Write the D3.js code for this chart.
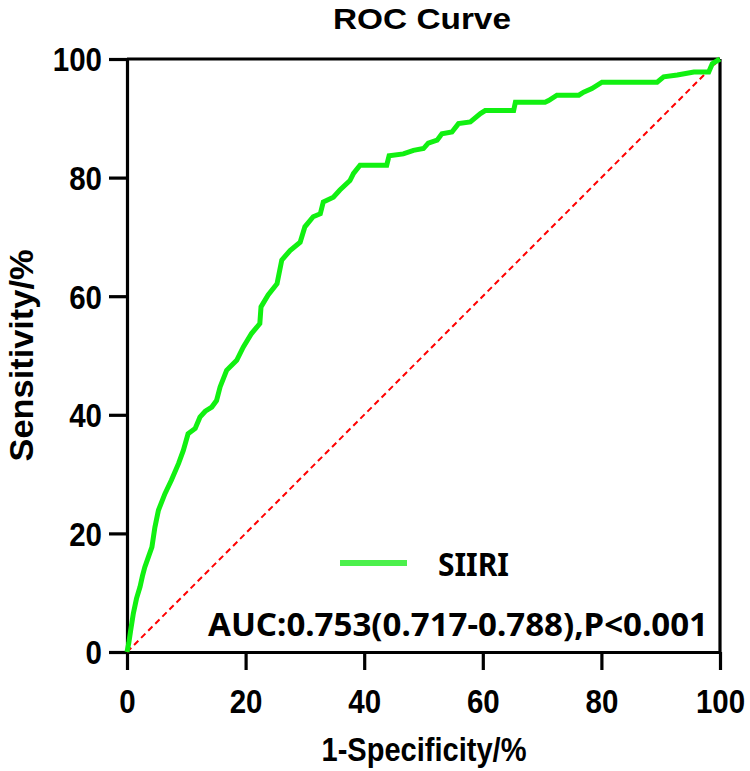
<!DOCTYPE html>
<html>
<head>
<meta charset="utf-8">
<script src="https://cdn.jsdelivr.net/npm/d3@7"></script>
<style>
  html, body { margin: 0; padding: 0; background: #fff; }
  svg { display: block; }
</style>
</head>
<body>
<svg id="chart" width="750" height="771"></svg>
<script>
// ---- Data ----
const fpr = [0, 0.3, 0.6, 1.07, 1.6, 2.2, 2.6, 3.0, 3.6, 4.2, 4.7, 5.3, 6.4, 7.5, 8.7, 9.5, 10.3, 11.5, 12.3, 13.2, 14.3, 15.1, 15.7, 16.8, 18.5, 19.6, 21.0, 22.4, 22.6, 23.8, 25.3, 26.1, 27.5, 29.2, 30.0, 31.4, 32.6, 33.1, 34.8, 35.9, 37.6, 38.2, 39.3, 43.8, 44.2, 46.6, 48.3, 50.0, 50.8, 52.3, 53.1, 54.8, 55.9, 57.9, 59.6, 60.4, 65.2, 65.5, 70.5, 71.1, 72.5, 76.2, 77.0, 78.4, 80.1, 89.4, 90.5, 92.8, 95.6, 98.1, 98.7, 100];
const tpr = [0, 1.5, 3.5, 6.5, 9.0, 11.0, 12.8, 14.3, 16.0, 17.7, 21.0, 23.9, 26.7, 29.0, 31.8, 34.0, 36.8, 37.7, 39.6, 40.6, 41.3, 42.4, 44.7, 47.5, 49.2, 51.4, 53.7, 55.4, 58.2, 60.2, 62.1, 66.1, 67.7, 69.1, 71.7, 73.4, 73.9, 75.9, 76.7, 77.9, 79.5, 80.7, 82.1, 82.1, 83.7, 84.0, 84.6, 84.9, 85.8, 86.3, 87.4, 87.7, 89.1, 89.4, 90.8, 91.3, 91.3, 92.7, 92.7, 93.0, 93.9, 93.9, 94.4, 95.0, 96.1, 96.1, 97.0, 97.3, 97.8, 97.8, 99.2, 100];
const refX = [0, 100];
const refY = [0, 100];
const xTicks = [0, 20, 40, 60, 80, 100];
const yTicks = [0, 20, 40, 60, 80, 100];
const seriesName = "SIIRI";
const aucLabel = "AUC:0.753(0.717-0.788),P<0.001";
const titleText = "ROC Curve";
const xTitle = "1-Specificity/%";
const yTitle = "Sensitivity/%";

// ---- Layout ----
const svg = d3.select("#chart");
const L = 127, R = 720, T = 59, B = 652;
const x = d3.scaleLinear().domain([0, 100]).range([L, R]);
const y = d3.scaleLinear().domain([0, 100]).range([B, T]);
const numFont = "'Liberation Sans', Arial, sans-serif";
const legFont = "'Noto Sans', 'Open Sans', sans-serif";

// Title
svg.append("text")
  .attr("x", 422).attr("y", 29)
  .attr("text-anchor", "middle")
  .attr("font-family", numFont).attr("font-weight", "bold")
  .attr("font-size", 30)
  .attr("textLength", 178).attr("lengthAdjust", "spacingAndGlyphs")
  .text(titleText);

// Frame (top & right)
svg.append("line").attr("x1", L).attr("x2", R).attr("y1", T).attr("y2", T)
  .attr("stroke", "#000").attr("stroke-width", 3.2);
svg.append("line").attr("x1", R).attr("x2", R).attr("y1", T).attr("y2", B)
  .attr("stroke", "#000").attr("stroke-width", 3.2);

// Axes
const xAxis = svg.append("g").attr("transform", `translate(0,${B})`)
  .call(d3.axisBottom(x).tickValues(xTicks).tickSize(18).tickPadding(20).tickSizeOuter(0));
const yAxis = svg.append("g").attr("transform", `translate(${L},0)`)
  .call(d3.axisLeft(y).tickValues(yTicks).tickSize(18).tickPadding(7).tickSizeOuter(0));
[xAxis, yAxis].forEach(g => {
  g.select(".domain").attr("stroke", "#000").attr("stroke-width", 3.2);
  g.selectAll(".tick line").attr("stroke", "#000").attr("stroke-width", 3.2);
  g.selectAll(".tick text")
    .attr("font-family", numFont).attr("font-weight", "bold")
    .attr("font-size", 33).attr("fill", "#000")
    .attr("textLength", d => String(d).length * 16.4)
    .attr("lengthAdjust", "spacingAndGlyphs");
});
xAxis.selectAll(".tick text").attr("dy", "0.71em");
yAxis.selectAll(".tick text").attr("dy", "0.36em");

// Axis titles
svg.append("text")
  .attr("x", 424).attr("y", 761)
  .attr("text-anchor", "middle")
  .attr("font-family", numFont).attr("font-weight", "bold")
  .attr("font-size", 33)
  .attr("textLength", 205).attr("lengthAdjust", "spacingAndGlyphs")
  .text(xTitle);
svg.append("text")
  .attr("transform", `translate(33,${(T + B) / 2}) rotate(-90)`)
  .attr("text-anchor", "middle")
  .attr("font-family", numFont).attr("font-weight", "bold")
  .attr("font-size", 33)
  .attr("textLength", 212).attr("lengthAdjust", "spacingAndGlyphs")
  .text(yTitle);

// Reference diagonal
svg.append("path")
  .datum(refX.map((d, i) => [d, refY[i]]))
  .attr("d", d3.line().x(d => x(d[0])).y(d => y(d[1])))
  .attr("fill", "none").attr("stroke", "#ff0000")
  .attr("stroke-width", 2).attr("stroke-dasharray", "6,4");

// ROC curve
svg.append("path")
  .datum(fpr.map((d, i) => [d, tpr[i]]))
  .attr("d", d3.line().x(d => x(d[0])).y(d => y(d[1])))
  .attr("fill", "none").attr("stroke", "#11f011")
  .attr("stroke-width", 5).attr("stroke-linejoin", "miter");

// Legend
svg.append("line")
  .attr("x1", 340).attr("x2", 407).attr("y1", 563).attr("y2", 563)
  .attr("stroke", "#4cf04c").attr("stroke-width", 6);
svg.append("text")
  .attr("x", 438).attr("y", 576)
  .attr("font-family", legFont).attr("font-weight", "bold")
  .attr("font-size", 33)
  .attr("textLength", 71).attr("lengthAdjust", "spacingAndGlyphs")
  .text(seriesName);

// AUC annotation
svg.append("text")
  .attr("x", 208).attr("y", 636)
  .attr("font-family", legFont).attr("font-weight", "bold")
  .attr("font-size", 32)
  .attr("textLength", 500).attr("lengthAdjust", "spacingAndGlyphs")
  .text(aucLabel);
</script>
</body>
</html>
